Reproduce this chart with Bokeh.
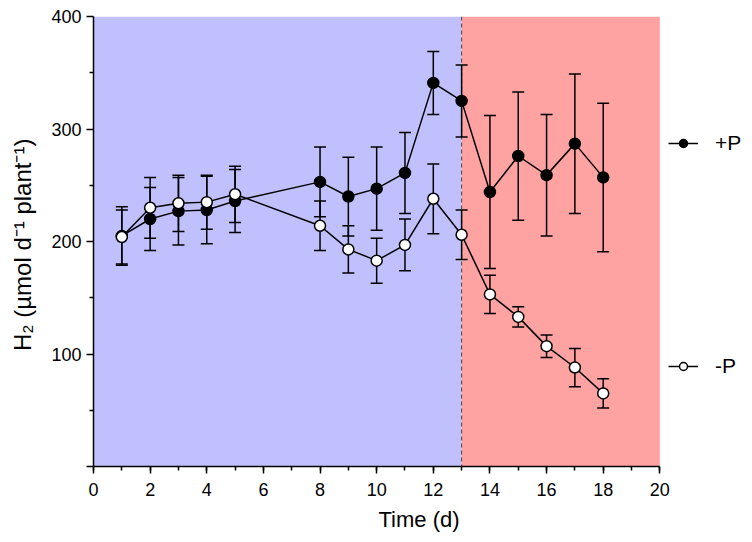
from bokeh.plotting import figure
from bokeh.models import (ColumnDataSource, Whisker, TeeHead, FixedTicker, Span,
                          Legend, LegendItem, Range1d)
from bokeh.embed import file_html
from bokeh.resources import INLINE

# ---- data ----
days = [1, 2, 3, 4, 5, 8, 9, 10, 11, 12, 13, 14, 15, 16, 17, 18]
plus_p = [205, 220, 227, 228, 236, 253, 240, 247, 261, 341, 325, 244, 276, 259, 287, 257]
plus_p_err = [26, 28, 30, 30, 28, 31, 35, 37, 36, 28, 32, 68, 57, 54, 62, 66]
minus_p = [204, 230, 234, 235, 242, 214, 193, 183, 197, 238, 206, 153, 133, 107, 88, 65]
minus_p_err = [24, 27, 25, 24, 25, 22, 21, 20, 23, 31, 22, 17, 9, 10, 17, 13]
phase_start = [0, 13]
phase_end = [13, 20]
phase_colors = ["#c0c0ff", "#ffa2a2"]
switch_day = 13
x_ticks = [0, 2, 4, 6, 8, 10, 12, 14, 16, 18, 20]
y_ticks = [0, 100, 200, 300, 400]

FONT = "Liberation Sans"

p = figure(width=744, height=534, output_backend="svg", toolbar_location=None,
           x_range=Range1d(0, 22.99), y_range=Range1d(0, 400),
           min_border_left=93, min_border_right=0, min_border_top=16, min_border_bottom=68)
p.grid.visible = False
p.outline_line_color = None
p.background_fill_color = "white"

# shaded phases
p.quad(left=phase_start, right=phase_end, bottom=0, top=400, fill_color=phase_colors,
       line_color=None, level="underlay")
p.add_layout(Span(location=switch_day, dimension="height", line_color="#444444",
                  line_width=1, line_dash="4 3", level="underlay"))

def series(y, err, fill):
    src = ColumnDataSource(dict(x=days, y=y,
                                lo=[a - b for a, b in zip(y, err)],
                                hi=[a + b for a, b in zip(y, err)]))
    w = Whisker(source=src, base="x", upper="hi", lower="lo", line_color="black",
                line_width=1.5, level="underlay",
                upper_head=TeeHead(size=12, line_color="black", line_width=1.5),
                lower_head=TeeHead(size=12, line_color="black", line_width=1.5))
    p.add_layout(w)
    ln = p.line("x", "y", source=src, line_color="black", line_width=1.5)
    sc = p.scatter("x", "y", source=src, size=11, fill_color=fill, line_color="black",
                   line_width=1.5)
    return ln, sc

l1, s1 = series(plus_p, plus_p_err, "black")
l2, s2 = series(minus_p, minus_p_err, "white")

for label, rs, loc in [("+P", [l1, s1], (575, 311)), ("-P", [l2, s2], (575, 88))]:
    lg = Legend(items=[LegendItem(label=label, renderers=rs)], location=loc,
                glyph_width=30, glyph_height=20, label_standoff=17, padding=0, margin=0,
                border_line_color=None, background_fill_alpha=0,
                label_text_font=FONT, label_text_font_size="21px", label_text_color="black")
    p.add_layout(lg)

for ax in (p.xaxis[0], p.yaxis[0]):
    ax.axis_line_color = "black"
    ax.axis_line_width = 1.5
    ax.major_tick_line_color = "black"
    ax.major_tick_line_width = 1.5
    ax.minor_tick_line_color = "black"
    ax.minor_tick_line_width = 1.5
    ax.major_tick_in = 0
    ax.major_tick_out = 7
    ax.minor_tick_in = 0
    ax.minor_tick_out = 4
    ax.major_label_text_font = FONT
    ax.major_label_text_font_size = "18px"
    ax.major_label_text_color = "black"
    ax.axis_label_text_font = FONT
    ax.axis_label_text_font_style = "normal"
    ax.axis_label_text_color = "black"

p.xaxis.bounds = (0, 20)
p.xaxis.ticker = FixedTicker(ticks=x_ticks, minor_ticks=list(range(0, 21)))
p.yaxis.ticker = FixedTicker(ticks=y_ticks, minor_ticks=[50, 150, 250, 350])
p.yaxis.major_label_overrides = {0: ""}
p.xaxis.axis_label = "Time (d)"
p.yaxis.axis_label = "H₂ (µmol d⁻¹  plant⁻¹)"
p.xaxis.axis_label_text_font_size = "22px"
p.yaxis.axis_label_text_font_size = "24px"
p.xaxis.major_label_standoff = 9
p.xaxis.axis_label_standoff = 8
p.yaxis.major_label_standoff = 5
p.yaxis.axis_label_standoff = 12

open("out.html", "w").write(file_html(p, INLINE))
